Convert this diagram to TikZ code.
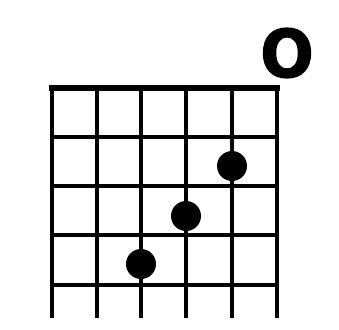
\documentclass[tikz,border=0pt]{standalone}
\usepackage{fontspec}
\usepackage{tikz}
\usetikzlibrary{positioning}
\newfontfamily\heavyfont[BoldFont={DejaVu Sans Bold},BoldFeatures={FakeBold=2}]{DejaVu Sans}
\definecolor{ink}{RGB}{0,0,0}
\tikzset{
  wire/.style={draw=ink,line width=4.5pt},
  nut/.style={draw=ink,line width=6pt},
  finger/.style={circle,fill=ink,inner sep=0pt,minimum size=30pt},
  open/.style={font=\fontsize{66}{66}\selectfont\heavyfont\bfseries,text=ink,inner sep=0pt,xscale=0.95},
}

\begin{document}
\begin{tikzpicture}[x=1pt,y=-1pt]
  \useasboundingbox (0,0) rectangle (339,329);
  % strings
  \foreach \s in {52,97,141,186,232,277}
    \draw[wire] (\s,88) -- (\s,318);
  % frets
  \foreach \f in {137,186,235,285}
    \draw[wire] (52,\f) -- (277,\f);
  \draw[nut] (49,88) -- (280,88);
  % fingers
  \node[finger] (f1) at (232,166) {};
  \node[finger] (f2) at (186,216) {};
  \node[finger] (f3) at (141,264) {};
  \node[open] (o6) at (287,53) {O};
\end{tikzpicture}
\end{document}
